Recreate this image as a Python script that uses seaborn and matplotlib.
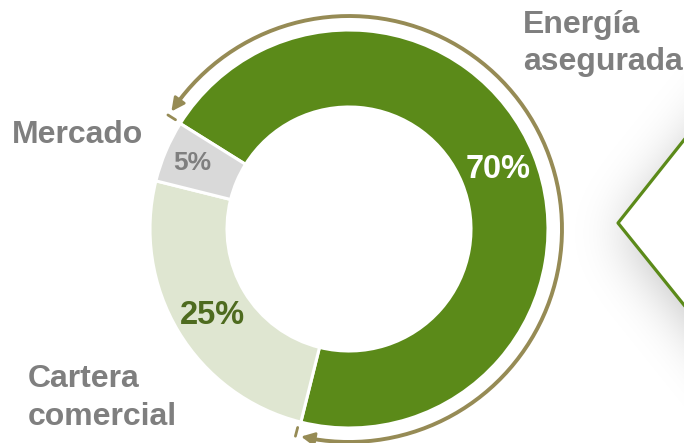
import numpy as np
import seaborn as sns
import matplotlib.pyplot as plt
from matplotlib.patches import Polygon

# data
labels = ["Energía\nasegurada", "Cartera\ncomercial", "Mercado"]
shares = [70, 25, 5]
pct_text = ["70%", "25%", "5%"]
colors = ["#5B8A19", "#DFE6D1", "#D9D9D9"]
pct_colors = ["white", "#4E6B1F", "#7F7F7F"]
pct_sizes = [23.5, 23.5, 19]

sns.set_theme(style="white")
plt.rcParams['font.family'] = ['Liberation Sans', 'DejaVu Sans']

W, H = 684, 443
fig = plt.figure(figsize=(W / 100, H / 100), dpi=100)
ax = fig.add_axes([0, 0, 1, 1])

# donut geometry in pixel units (y measured upward)
cx, cy = 349, H - 229
r_out, r_in = 199, 122
start = 148

wedges, _ = ax.pie(shares, colors=colors, startangle=start, counterclock=False,
                   center=(cx, cy), radius=r_out,
                   wedgeprops=dict(width=r_out - r_in, edgecolor="white", linewidth=2.2))

# percentage labels
pct_pos = [(498, 169), (212, 315), (192, 163)]
for t, c, s, (px, py) in zip(pct_text, pct_colors, pct_sizes, pct_pos):
    ax.text(px, H - py, t, color=c, fontsize=s, fontweight="bold", ha="center", va="center")

# category labels
grey = "#7F7F7F"
fs = 23
ax.text(523, H - 33, "Energía", color=grey, fontsize=fs, fontweight="bold", ha="left", va="baseline")
ax.text(523, H - 70, "asegurada", color=grey, fontsize=fs, fontweight="bold", ha="left", va="baseline")
ax.text(78, H - 143, "Mercado", color=grey, fontsize=fs, fontweight="bold", ha="center", va="baseline")
ax.text(28, H - 387, "Cartera", color=grey, fontsize=fs, fontweight="bold", ha="left", va="baseline")
ax.text(28, H - 425, "comercial", color=grey, fontsize=fs, fontweight="bold", ha="left", va="baseline")

# double-headed arc over the first share
arc_col = "#968B55"
r_arc = 213
a0 = start - 1.5
a1 = start - 360 * shares[0] / 100 + 1.0
th = np.radians(np.linspace(a0 - 3, a1 + 3, 200))
ax.plot(cx + r_arc * np.cos(th), cy + r_arc * np.sin(th), color=arc_col, lw=2.8, solid_capstyle="butt")
for a_tip, a_back in [(a0, a0 - 5), (a1, a1 + 5)]:
    tip = (cx + r_arc * np.cos(np.radians(a_tip)), cy + r_arc * np.sin(np.radians(a_tip)))
    back = (cx + r_arc * np.cos(np.radians(a_back)), cy + r_arc * np.sin(np.radians(a_back)))
    ax.annotate("", xy=tip, xytext=back,
                arrowprops=dict(arrowstyle="-|>", color=arc_col, lw=2.0, mutation_scale=20,
                                shrinkA=0, shrinkB=0))
for a_tk in [a0 + 1.3, a1 - 1.5]:
    t = np.radians(a_tk)
    ax.plot([cx + 205 * np.cos(t), cx + 214 * np.cos(t)], [cy + 205 * np.sin(t), cy + 214 * np.sin(t)],
            color=arc_col, lw=2.0)

# soft shadow behind the callout box on the right
pad = 150
yy, xx = np.mgrid[-pad:H + pad, -pad:W + pad].astype(float)
sx, sy = 4, 10
inside = (xx - sx) > 618 + np.abs((yy - sy) - 223) * 0.8
mask = inside.astype(float)
k = np.arange(-90, 91)
g = np.exp(-k ** 2 / (2 * 28.0 ** 2))
g /= g.sum()
mask = np.apply_along_axis(lambda r: np.convolve(r, g, mode="same"), 1, mask)
mask = np.apply_along_axis(lambda c: np.convolve(c, g, mode="same"), 0, mask)
mask = mask[pad:pad + H, pad:pad + W]
rgba = np.zeros((H, W, 4))
rgba[..., 3] = 0.26 * mask
ax.imshow(rgba, extent=(0, W, 0, H), origin="upper", zorder=0, interpolation="bilinear")

chev = Polygon([(684 + 60, H - (140 - 60 / 0.795)), (618, H - 223), (684 + 60, H - (305 + 60 / 0.805))],
               closed=True, facecolor="white", edgecolor="none", zorder=1)
ax.add_patch(chev)
ax.plot([684 + 60, 618, 684 + 60], [H - (140 - 60 / 0.795), H - 223, H - (305 + 60 / 0.805)],
        color="#5B8A19", lw=2.3, zorder=2)

ax.set_xlim(0, W)
ax.set_ylim(0, H)
ax.set_aspect("equal")
ax.axis("off")

fig.savefig("out.png", dpi=100)
